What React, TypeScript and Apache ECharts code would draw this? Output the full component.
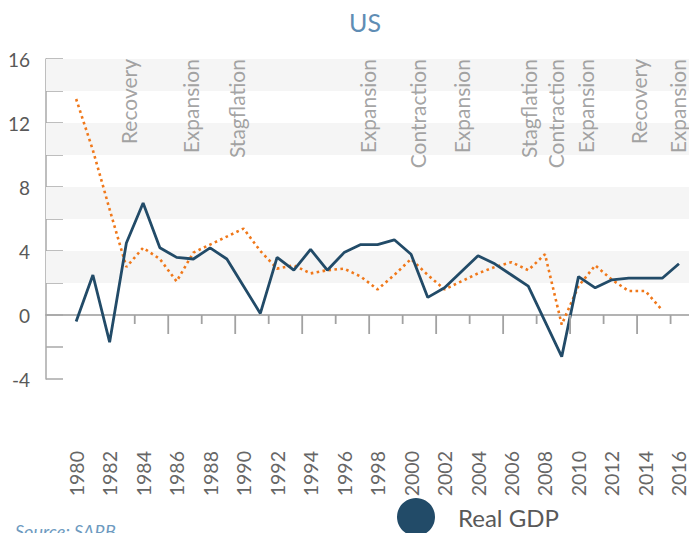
import React, { useEffect, useRef } from "react";
import * as echarts from "echarts";

const years = [
  1980, 1981, 1982, 1983, 1984, 1985, 1986, 1987, 1988, 1989, 1990, 1991, 1992,
  1993, 1994, 1995, 1996, 1997, 1998, 1999, 2000, 2001, 2002, 2003, 2004, 2005,
  2006, 2007, 2008, 2009, 2010, 2011, 2012, 2013, 2014, 2015, 2016,
];
const realGdp = [
  -0.4, 2.5, -1.7, 4.5, 7.0, 4.2, 3.6, 3.5, 4.2, 3.5, 1.8, 0.1, 3.6, 2.8, 4.1,
  2.8, 3.9, 4.4, 4.4, 4.7, 3.8, 1.1, 1.7, 2.7, 3.7, 3.2, 2.5, 1.8, -0.4, -2.6,
  2.4, 1.7, 2.2, 2.3, 2.3, 2.3, 3.2,
];
const inflation = [
  13.5, 10.3, 6.6, 3.0, 4.2, 3.5, 2.1, 3.9, 4.4, 4.9, 5.4, 4.0, 2.9, 3.1, 2.6,
  2.8, 2.9, 2.4, 1.6, 2.5, 3.5, 2.5, 1.6, 2.1, 2.6, 3.0, 3.3, 2.8, 3.8, -0.6,
  1.8, 3.1, 2.2, 1.5, 1.5, 0.3, null,
];
const phaseNames = [
  "Recovery", "Expansion", "Stagflation", "Expansion", "Contraction", "Expansion",
  "Stagflation", "Contraction", "Expansion", "Recovery", "Expansion",
];
const phaseYears = [
  1983.1, 1986.8, 1989.6, 1997.4, 2000.4, 2003.0, 2007.0, 2008.6, 2010.4, 2013.6, 2015.9,
];
const yearLabels = [
  1980, 1982, 1984, 1986, 1988, 1990, 1992, 1994, 1996, 1998, 2000, 2002, 2004,
  2006, 2008, 2010, 2012, 2014, 2016,
];
const shortTicks = [1983.5, 1987.5, 1991.5, 1995.5, 1999.5, 2003.5, 2007.5, 2011.5, 2015.5];
const longTicks = [1985.5, 1989.5, 1993.5, 1997.5, 2001.5, 2005.5, 2009.5, 2013.5];
const bands = [
  [2, 4],
  [6, 8],
  [10, 12],
  [14, 16],
];

const FONT = "Lato, 'Open Sans', sans-serif";

export default function App() {
  const ref = useRef<HTMLDivElement>(null);
  useEffect(() => {
    document.body.style.margin = "0";
    const chart = echarts.init(ref.current!, null, { renderer: "svg" });
    const xMin = 1978.2;
    const xMax = 2016.6;
    chart.setOption({
      animation: false,
      textStyle: { fontFamily: FONT },
      title: {
        text: "US",
        left: 365,
        top: 9,
        padding: 0,
        textAlign: "center",
        textStyle: { color: "#5f8db4", fontSize: 25, fontWeight: "normal", fontFamily: FONT },
      },
      legend: {
        data: ["Real GDP"],
        left: 397,
        top: 498,
        padding: 0,
        icon: "circle",
        itemWidth: 38,
        itemHeight: 38,
        textStyle: { color: "#595959", fontSize: 24, fontFamily: FONT, padding: [0, 0, 0, 18] },
      },
      graphic: [
        {
          type: "text",
          left: 15,
          top: 522,
          style: {
            text: "Source: SARB",
            fill: "#6d9ac0",
            font: `italic 18px ${FONT}`,
          },
        },
      ],
      grid: { left: 46, right: 0, top: 59, bottom: 154, containLabel: false },
      xAxis: {
        type: "value",
        min: xMin,
        max: xMax,
        position: "bottom",
        axisLine: { show: true, onZero: true, lineStyle: { color: "#9a9a9a", width: 1.5 } },
        axisTick: { show: false },
        axisLabel: {
          show: true,
          customValues: yearLabels,
          rotate: 90,
          margin: 72,
          color: "#666666",
          fontSize: 19.5,
          fontFamily: FONT,
          formatter: (v: number) => String(Math.round(v)),
        },
        splitLine: { show: false },
      },
      yAxis: {
        type: "value",
        min: -4,
        max: 16,
        interval: 2,
        axisLine: { show: true, lineStyle: { color: "#a8a8a8", width: 1.5 } },
        axisTick: { show: true, inside: true, length: 17, lineStyle: { color: "#a8a8a8", width: 1.5 } },
        axisLabel: {
          color: "#595959",
          fontSize: 19,
          margin: 16,
          fontFamily: FONT,
          formatter: (v: number) => (v % 4 === 0 ? String(v) : ""),
        },
        splitLine: { show: false },
      },
      series: [
        {
          name: "Phases",
          type: "scatter",
          z: 1,
          silent: true,
          symbolSize: 1,
          itemStyle: { color: "rgba(0,0,0,0)" },
          data: phaseYears.map((y, i) => ({ value: [y, 16], name: phaseNames[i] })),
          label: {
            show: true,
            formatter: "{b}",
            position: "inside",
            rotate: 90,
            align: "right",
            verticalAlign: "middle",
            color: "#8c8c8c",
            fontSize: 21,
            fontFamily: FONT,
          },
          markArea: {
            silent: true,
            itemStyle: { color: "#f5f5f5" },
            data: bands.map(([a, b]) => [{ yAxis: a }, { yAxis: b }]),
          },
        },
        {
          name: "ShortTicks",
          type: "scatter",
          z: 5,
          silent: true,
          clip: false,
          symbol: "rect",
          symbolSize: [1.8, 9],
          symbolOffset: [0, 4.5],
          itemStyle: { color: "#a2a2a2", opacity: 1 },
          data: shortTicks.map((x) => [x, 0]),
        },
        {
          name: "LongTicks",
          type: "scatter",
          z: 5,
          silent: true,
          clip: false,
          symbol: "rect",
          symbolSize: [1.8, 19],
          symbolOffset: [0, 9.5],
          itemStyle: { color: "#a2a2a2", opacity: 1 },
          data: longTicks.map((x) => [x, 0]),
        },
        {
          name: "Inflation",
          type: "line",
          z: 3,
          data: years.map((y, i) => [y, inflation[i]]),
          showSymbol: false,
          symbol: "none",
          lineStyle: { color: "#f0781a", width: 2.6, type: [2.6, 3.4] },
          itemStyle: { color: "#f0781a" },
        },
        {
          name: "Real GDP",
          type: "line",
          z: 4,
          data: years.map((y, i) => [y, realGdp[i]]),
          showSymbol: false,
          symbol: "none",
          lineStyle: { color: "#224b68", width: 2.8 },
          itemStyle: { color: "#224b68" },
        },
      ],
    });
    return () => chart.dispose();
  }, []);
  return <div ref={ref} style={{ width: 689, height: 533 }} />;
}
